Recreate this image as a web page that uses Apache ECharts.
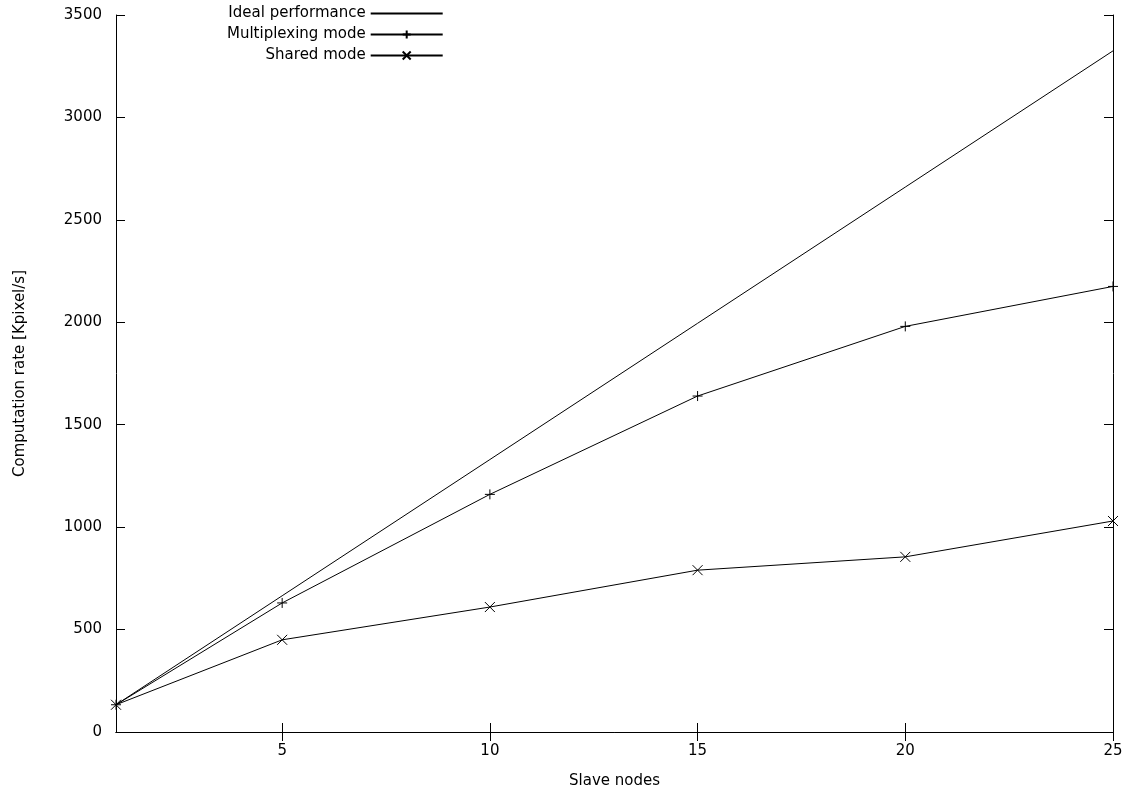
<!DOCTYPE html>
<html>
<head>
<meta charset="utf-8">
<script src="https://cdn.jsdelivr.net/npm/echarts@6/dist/echarts.min.js"></script>
<style>html,body{margin:0;padding:0;background:#fff}#chart{width:1131px;height:799px}</style>
</head>
<body>
<div id="chart"></div>
<script>
// data
var nodes = [1, 5, 10, 15, 20, 25];
var ideal = [133, 665, 1330, 1995, 2660, 3325];
var multiplexing = [133, 630, 1160, 1640, 1980, 2175];
var shared = [133, 450, 610, 790, 855, 1030];
var xTicks = [5, 10, 15, 20, 25];

function pairs(ys){
    return nodes.map(function(x, i){ return [x, ys[i]]; });
}

var plus = 'path://M0,5L10,5M5,0L5,10';
var cross = 'path://M0,0L10,10M10,0L0,10';
var font = 'DejaVu Sans';

var chart = echarts.init(document.getElementById('chart'));

var axisBase = {
    type: 'value',
    axisLine: {show: true, lineStyle: {color: '#000', width: 1}},
    splitLine: {show: false},
    axisTick: {inside: true, length: 9, lineStyle: {color: '#000'}}
};

chart.setOption({
    backgroundColor: '#fff',
    textStyle: {fontFamily: font},
    grid: {left: 116, right: 18, top: 15, bottom: 67},
    legend: {
        left: 222, top: 1,
        orient: 'vertical',
        align: 'right',
        itemWidth: 72, itemHeight: 10, itemGap: 6,
        textStyle: {fontSize: 15, color: '#000', fontFamily: font},
        data: [
            {name: 'Ideal performance', itemStyle: {opacity: 0}},
            'Multiplexing mode',
            'Shared mode'
        ]
    },
    xAxis: [
        Object.assign({}, axisBase, {
            min: 1, max: 25, position: 'bottom',
            name: 'Slave nodes', nameLocation: 'middle', nameGap: 42,
            nameTextStyle: {fontSize: 15, color: '#000'},
            axisTick: {inside: true, length: 9, lineStyle: {color: '#000'}, customValues: xTicks},
            axisLabel: {fontSize: 15, color: '#000', margin: 12, customValues: xTicks}
        }),
        Object.assign({}, axisBase, {
            min: 1, max: 25, position: 'top',
            axisTick: {inside: true, length: 9, lineStyle: {color: '#000'}, customValues: xTicks},
            axisLabel: {show: false}
        })
    ],
    yAxis: [
        Object.assign({}, axisBase, {
            min: 0, max: 3500, interval: 500, position: 'left',
            name: 'Computation rate [Kpixel/s]', nameLocation: 'middle', nameGap: 88,
            nameTextStyle: {fontSize: 15, color: '#000'},
            axisLabel: {fontSize: 15, color: '#000', margin: 14, formatter: function(v){ return String(v); }}
        }),
        Object.assign({}, axisBase, {
            min: 0, max: 3500, interval: 500, position: 'right',
            axisLabel: {show: false}
        })
    ],
    series: [
        {
            name: 'Ideal performance', type: 'line', data: pairs(ideal),
            showSymbol: false, symbol: 'none',
            lineStyle: {color: '#000', width: 1}, itemStyle: {color: '#000'}
        },
        {
            name: 'Multiplexing mode', type: 'line', data: pairs(multiplexing),
            symbol: plus, symbolSize: 10,
            lineStyle: {color: '#000', width: 1},
            itemStyle: {color: '#000', borderColor: '#000', borderWidth: 1}
        },
        {
            name: 'Shared mode', type: 'line', data: pairs(shared),
            symbol: cross, symbolSize: 10,
            lineStyle: {color: '#000', width: 1},
            itemStyle: {color: '#000', borderColor: '#000', borderWidth: 1}
        }
    ]
});
</script>
</body>
</html>
